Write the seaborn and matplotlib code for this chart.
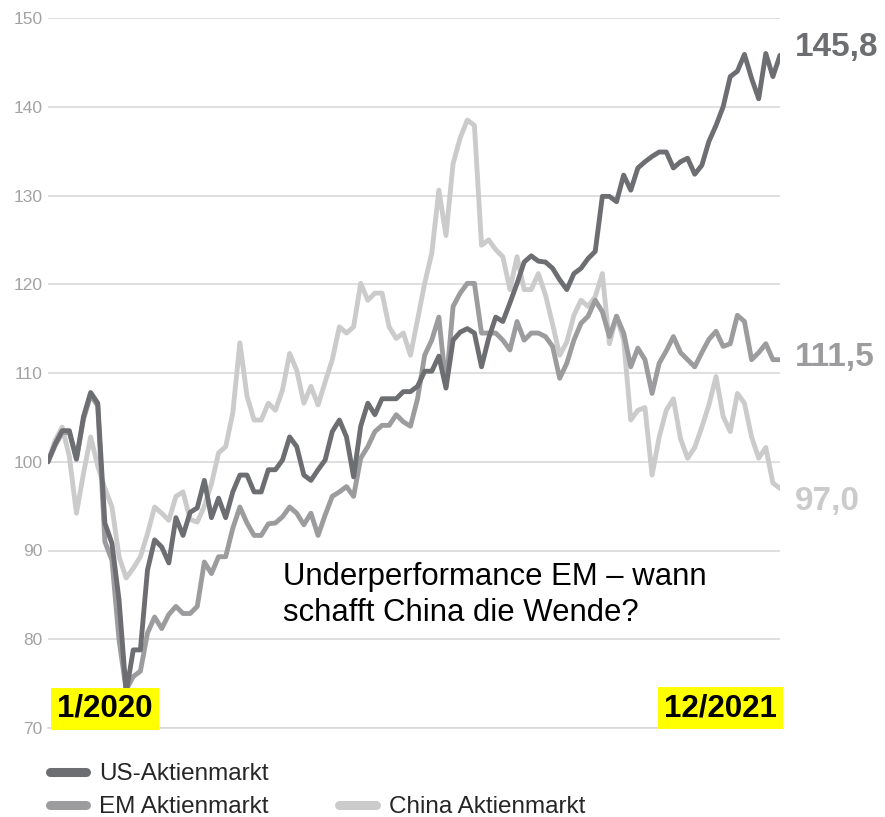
import matplotlib
matplotlib.use("Agg")
import matplotlib.pyplot as plt
from matplotlib.lines import Line2D
import seaborn as sns
import pandas as pd
import numpy as np

# weekly index values, 1/2020 = 100
us_values = [100.0, 102.0, 103.5, 103.5, 100.3, 105.1, 107.8, 106.6, 93.1, 90.8,
             84.4, 74.0, 78.8, 78.8, 87.8, 91.2, 90.4, 88.6, 93.7, 91.7,
             94.3, 94.8, 97.9, 93.7, 95.9, 93.7, 96.6, 98.5, 98.5, 96.6,
             96.6, 99.1, 99.1, 100.2, 102.8, 101.7, 98.5, 97.9, 99.1, 100.2,
             103.4, 104.7, 102.8, 98.3, 104.0, 106.6, 105.3, 107.1, 107.1, 107.1,
             107.9, 107.9, 108.5, 110.2, 110.2, 111.9, 108.3, 113.7, 114.6, 115.0,
             114.5, 110.7, 113.9, 116.3, 115.8, 117.9, 120.1, 122.5, 123.2, 122.6,
             122.5, 121.8, 120.5, 119.4, 121.2, 121.8, 122.9, 123.7, 129.9, 129.9,
             129.3, 132.3, 130.6, 133.1, 133.8, 134.4, 134.9, 134.9, 133.1, 133.8,
             134.2, 132.4, 133.4, 136.1, 137.9, 140.0, 143.4, 144.0, 145.9, 143.2,
             140.9, 146.0, 143.4, 145.8]

em_values = [100.0, 101.8, 103.3, 103.3, 100.3, 104.8, 107.5, 106.3, 91.0, 88.9,
             79.9, 74.3, 75.8, 76.4, 80.7, 82.5, 81.2, 82.8, 83.7, 82.9,
             82.9, 83.7, 88.7, 87.4, 89.3, 89.3, 92.5, 94.9, 93.1, 91.7,
             91.7, 93.0, 93.1, 93.8, 94.9, 94.2, 92.9, 94.2, 91.7, 94.0,
             96.1, 96.6, 97.2, 96.1, 100.4, 101.7, 103.4, 104.1, 104.1, 105.3,
             104.5, 104.0, 107.1, 112.0, 113.7, 116.3, 108.5, 117.5, 119.0, 120.1,
             120.1, 114.5, 114.5, 114.5, 113.7, 112.6, 115.8, 113.7, 114.5, 114.5,
             114.1, 113.0, 109.4, 111.1, 113.7, 115.6, 116.4, 118.2, 116.9, 114.1,
             116.4, 114.5, 110.7, 112.8, 111.5, 107.7, 111.1, 112.5, 114.1, 112.3,
             111.5, 110.7, 112.3, 113.8, 114.7, 113.0, 113.3, 116.5, 115.8, 111.5,
             112.3, 113.3, 111.5, 111.5]

china_values = [100.0, 102.4, 103.9, 100.6, 94.2, 98.7, 102.8, 99.5, 97.0, 94.9,
                89.3, 86.9, 88.0, 89.3, 91.9, 94.9, 94.2, 93.4, 96.1, 96.6,
                93.5, 93.2, 95.0, 97.5, 101.0, 101.7, 105.5, 113.4, 107.4, 104.7,
                104.7, 106.6, 105.8, 108.1, 112.2, 110.3, 106.6, 108.5, 106.4, 109.0,
                111.5, 115.2, 114.5, 115.2, 120.1, 118.2, 119.0, 119.0, 115.2, 113.9,
                114.5, 112.0, 116.0, 120.1, 123.5, 130.6, 125.5, 133.6, 136.5, 138.5,
                137.9, 124.4, 125.0, 123.9, 123.1, 119.4, 123.1, 119.4, 119.4, 121.2,
                118.8, 115.5, 112.0, 113.5, 116.5, 118.2, 117.5, 118.6, 121.2, 113.3,
                116.4, 113.7, 104.7, 105.8, 106.1, 98.5, 102.8, 105.8, 107.1, 102.6,
                100.4, 101.6, 103.9, 106.4, 109.6, 105.1, 103.4, 107.7, 106.6, 102.8,
                100.4, 101.6, 97.6, 97.0]

series_names = ["US-Aktienmarkt", "EM Aktienmarkt", "China Aktienmarkt"]
series_colors = ["#6d6e71", "#9c9c9e", "#cbcbcb"]
end_labels = ["145,8", "111,5", "97,0"]
end_label_y = [146.7, 111.8, 95.5]
y_ticks = [70, 80, 90, 100, 110, 120, 130, 140, 150]

df = pd.DataFrame({
    "week": list(range(len(us_values))) * 3,
    "value": us_values + em_values + china_values,
    "series": [series_names[0]] * len(us_values)
              + [series_names[1]] * len(em_values)
              + [series_names[2]] * len(china_values),
})

sns.set_style("white")
plt.rcParams["font.family"] = ["Liberation Sans", "DejaVu Sans"]

fig = plt.figure(figsize=(8.85, 8.17), dpi=100)
ax = fig.add_axes([48 / 885, 89 / 817, 732 / 885, 710 / 817])

palette = dict(zip(series_names, series_colors))
# draw China first so US ends on top
sns.lineplot(data=df, x="week", y="value", hue="series",
             hue_order=series_names[::-1], palette=palette,
             linewidth=3.5, ax=ax, legend=True)
for line in ax.get_lines():
    line.set_solid_joinstyle("round")
    line.set_solid_capstyle("round")

n = len(us_values) - 1
ax.set_xlim(0, n)
ax.set_ylim(70, 150)
ax.set_yticks(y_ticks)
ax.set_xticks(np.linspace(0, n, 7))
ax.set_xlabel("")
ax.set_ylabel("")
ax.yaxis.grid(True, color="#d6d6d6", linewidth=1.1)
ax.set_axisbelow(True)
for side in ["top", "right", "left"]:
    ax.spines[side].set_visible(False)
ax.spines["bottom"].set_color("#d6d6d6")
ax.spines["bottom"].set_linewidth(1.1)
ax.tick_params(axis="y", length=0, pad=4, labelcolor="#a3a3a3", labelsize=12.5)
ax.tick_params(axis="x", length=8, width=1, color="#d6d6d6", labelbottom=False,
               direction="out")

# end-value labels
for txt, yv, col in zip(end_labels, end_label_y, series_colors):
    ax.text(1.02, yv, txt, transform=ax.get_yaxis_transform(), ha="left",
            va="center", fontsize=24, fontweight="bold", color=col, clip_on=False)

# date labels on yellow
ax.text(0.078, 0.027, "1/2020", transform=ax.transAxes, ha="center", va="center",
        fontsize=22.5, fontweight="bold", color="black",
        bbox=dict(boxstyle="square,pad=0.2", fc="#ffff00", ec="none"))
ax.text(0.919, 0.028, "12/2021", transform=ax.transAxes, ha="center", va="center",
        fontsize=22.5, fontweight="bold", color="black",
        bbox=dict(boxstyle="square,pad=0.2", fc="#ffff00", ec="none"))

ax.text(0.321, 85.0, "Underperformance EM – wann\nschafft China die Wende?",
        transform=ax.get_yaxis_transform(), ha="left", va="center",
        fontsize=22.4, color="black", linespacing=1.25)

# legend: US alone in row one, EM and China in row two
handles, labels = ax.get_legend_handles_labels()
ax.get_legend().remove()
lookup = dict(zip(labels, handles))
blank = Line2D([], [], linestyle="none")
leg = fig.legend([lookup[series_names[0]], lookup[series_names[1]], blank,
                  lookup[series_names[2]]],
                 [series_names[0], series_names[1], "", series_names[2]],
                 ncol=2, loc="upper left", bbox_to_anchor=(0.056, 0.066),
                 frameon=False, fontsize=17.5, handlelength=1.5,
                 handletextpad=0.55, columnspacing=2.9, labelspacing=0.45,
                 borderpad=0, borderaxespad=0)
for h in leg.legend_handles:
    h.set_linewidth(6.5)
    h.set_solid_capstyle("round")

fig.savefig("out.png", dpi=100)
